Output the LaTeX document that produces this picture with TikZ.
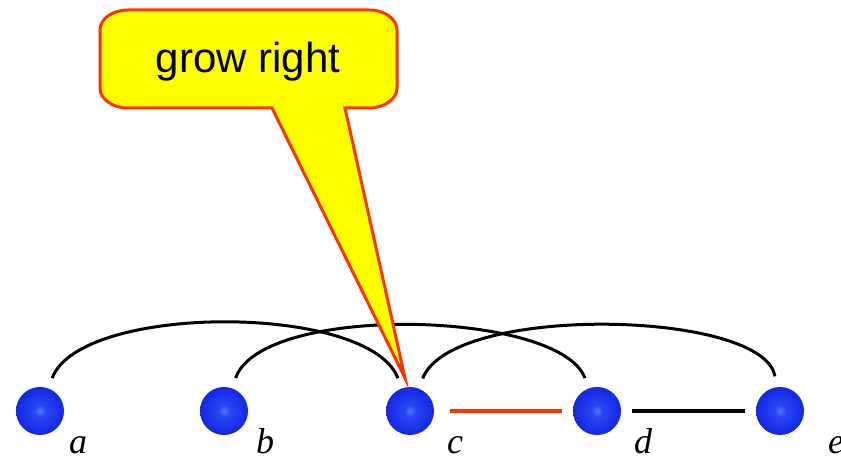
\documentclass[tikz,border=0pt]{standalone}
\usepackage{fontspec}
\setmainfont{Liberation Serif}
\newfontfamily\calloutfont{Liberation Sans}
\definecolor{calred}{RGB}{255,51,0}
\definecolor{calyellow}{RGB}{255,255,0}
\pgfdeclareradialshading{myballshade}{\pgfpoint{0bp}{0bp}}{%
  color(0bp)=(rgb,255:red,90;green,120;blue,255);
  color(6bp)=(rgb,255:red,40;green,70;blue,245);
  color(28bp)=(rgb,255:red,15;green,35;blue,225);
  color(42bp)=(rgb,255:red,10;green,25;blue,180);
  color(50bp)=(rgb,255:red,10;green,20;blue,140);
  color(100bp)=(rgb,255:red,10;green,20;blue,140)}
\begin{document}
\begin{tikzpicture}[x=1pt,y=1pt,
  ball/.style={circle,minimum size=48pt,inner sep=0pt,outer sep=11pt,shading=myballshade},
  vlabel/.style={font=\fontsize{36}{36}\selectfont\itshape,inner sep=0pt},
  arcedge/.style={line width=3pt,black},
  redge/.style={line width=3.2pt,calred},
  bedge/.style={line width=3.2pt,black}]
\useasboundingbox (0,0) rectangle (841,460);
\node[ball] (a) at (40,49) {};
\node[ball] (b) at (224,49) {};
\node[ball] (c) at (410,49) {};
\node[ball] (d) at (597,49) {};
\node[ball] (e) at (780,49) {};
\node[vlabel] (la) at (78,15) {a};
\node[vlabel] (lb) at (265,19) {b};
\node[vlabel] (lc) at (455,15) {c};
\node[vlabel] (ld) at (643,19) {d};
\node[vlabel,anchor=west] (le) at (828,15) {e};
% arcs
\draw[arcedge] (a) .. controls (80,157) and (370,157) .. (c);
\draw[arcedge] (b) .. controls (262,157) and (560,150) .. (d);
\draw[arcedge] (c) .. controls (452,157) and (765,150) .. (e);
% straight edges
\draw[redge,shorten <=5pt] (c) -- (d);
\draw[bedge] (d) -- (e);
% callout
\coordinate (tip) at ([shift={(-5,33)}]c.center);
\draw[line width=3pt,draw=calred,fill=calyellow,line join=miter]
  (272,352) -- (128,352) arc[start angle=270,end angle=180,x radius=28,y radius=20]
  -- (100,430) arc[start angle=180,end angle=90,x radius=28,y radius=20]
  -- (369,450) arc[start angle=90,end angle=0,x radius=28,y radius=20]
  -- (397,372) arc[start angle=0,end angle=-90,x radius=28,y radius=20]
  -- (345,352) -- (tip) -- cycle;
\node[font=\calloutfont\fontsize{42}{42}\selectfont,inner sep=0pt] (txt) at (248,398) {grow right};
\end{tikzpicture}
\end{document}
